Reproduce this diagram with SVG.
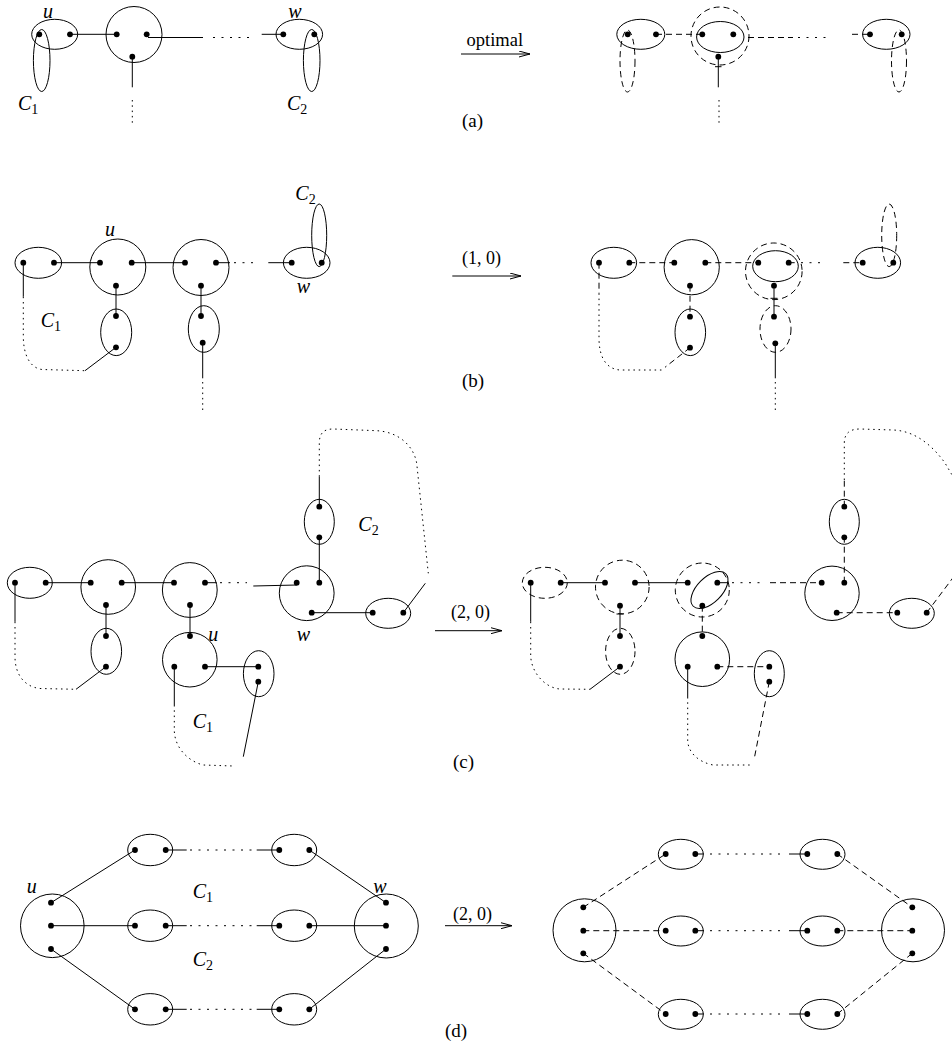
<svg xmlns="http://www.w3.org/2000/svg" width="952" height="1041" viewBox="0 0 952 1041">
<style>
.s{fill:none;stroke:#000;stroke-width:1}
.d{fill:none;stroke:#000;stroke-width:1;stroke-dasharray:6 4}
.o{fill:none;stroke:#000;stroke-width:1;stroke-dasharray:1.5 3.8}
.q{fill:none;stroke:#000;stroke-width:1;stroke-dasharray:2 6.5}
.p{fill:#000}
.m{font-family:"Liberation Serif",serif;font-style:italic;font-size:20px}
.sb{font-style:normal;font-size:14px}
.t{font-family:"Liberation Serif",serif;font-size:19px}
</style>
<defs>
<marker id="ah" viewBox="0 0 12 7" refX="11.5" refY="3.5" markerWidth="12" markerHeight="7" markerUnits="userSpaceOnUse" orient="auto">
<path d="M0,0.4 L11.5,3.5 L0,6.6" fill="none" stroke="#000" stroke-width="1"/>
</marker>
</defs>
<rect width="952" height="1041" fill="#fff"/>

<!-- ===== connectors ===== -->
<g id="connectors">
<!-- (a) left -->
<line class="s" x1="70" y1="34.3" x2="116.7" y2="34.3"/>
<line class="s" x1="148" y1="37.5" x2="203" y2="37.5"/>
<line class="q" x1="213" y1="37.5" x2="249" y2="37.5"/>
<line class="s" x1="261.7" y1="34.3" x2="283.3" y2="34.3"/>
<line class="s" x1="132.3" y1="56.7" x2="132.3" y2="87.3"/>
<line class="o" x1="132.3" y1="100" x2="132.3" y2="124"/>
<!-- (a) right -->
<line class="s" x1="461" y1="54" x2="530" y2="54" marker-end="url(#ah)"/>
<line class="d" x1="656" y1="34.3" x2="702.3" y2="34.3"/>
<line class="d" x1="748" y1="37.5" x2="793" y2="37.5"/>
<line class="q" x1="798" y1="37.5" x2="830" y2="37.5"/>
<line class="d" x1="852" y1="34.3" x2="870" y2="34.3"/>
<line class="s" x1="718.3" y1="56.7" x2="718.3" y2="87.3"/>
<line class="s" x1="715" y1="66.7" x2="721.5" y2="66.7"/>
<line class="o" x1="719" y1="100" x2="719" y2="124"/>

<!-- (b) left -->
<line class="s" x1="54" y1="262.7" x2="100" y2="262.7"/>
<line class="s" x1="131.7" y1="262.7" x2="185" y2="262.7"/>
<line class="s" x1="216" y1="262.7" x2="230" y2="262.7"/>
<line class="q" x1="234" y1="262.7" x2="256" y2="262.7"/>
<line class="s" x1="268.3" y1="262.7" x2="291.7" y2="262.7"/>
<line class="s" x1="116" y1="285.7" x2="116" y2="316"/>
<line class="s" x1="201" y1="285.7" x2="201" y2="316"/>
<line class="s" x1="116" y1="347.3" x2="85" y2="370.7"/>
<line class="s" x1="23.3" y1="262.7" x2="23.3" y2="296.7"/>
<path class="o" d="M23.3,296.7 V336 C23.3,355 30,368 42,369.5 L85,370.7"/>
<line class="s" x1="202.7" y1="342.7" x2="202.7" y2="378.3"/>
<line class="o" x1="202.7" y1="382" x2="202.7" y2="412"/>
<!-- (b) right -->
<line class="s" x1="452.3" y1="276" x2="521" y2="276" marker-end="url(#ah)"/>
<line class="d" x1="629.3" y1="262.7" x2="674.3" y2="262.7"/>
<line class="d" x1="705.3" y1="262.7" x2="758.3" y2="262.7"/>
<line class="d" x1="788.7" y1="262.7" x2="798" y2="262.7"/>
<line class="q" x1="801" y1="262.7" x2="826" y2="262.7"/>
<line class="d" x1="843.3" y1="262.7" x2="862.7" y2="262.7"/>
<line class="d" x1="690" y1="285.7" x2="690" y2="316.7"/>
<line class="d" x1="690" y1="347.7" x2="665" y2="367.3"/>
<line class="d" x1="599" y1="262.7" x2="599" y2="293.3"/>
<path class="o" d="M599,293.3 V338 C599,357 606,369 620,370 L665,370"/>
<line class="s" x1="774" y1="285.7" x2="774" y2="316.7"/>
<line class="s" x1="770.5" y1="298.3" x2="777.5" y2="298.3"/>
<line class="s" x1="775.3" y1="343.3" x2="775.3" y2="378.3"/>
<line class="o" x1="775.3" y1="382" x2="775.3" y2="412"/>

<!-- (c) left -->
<line class="s" x1="45.7" y1="582.7" x2="90.7" y2="582.7"/>
<line class="s" x1="121.7" y1="582.7" x2="174" y2="582.7"/>
<line class="s" x1="205" y1="582.7" x2="216.7" y2="582.7"/>
<line class="q" x1="220" y1="582.7" x2="247" y2="582.7"/>
<line class="s" x1="253.3" y1="586" x2="297" y2="585"/>
<line class="s" x1="319.3" y1="582.7" x2="319.3" y2="537.3"/>
<line class="s" x1="319.3" y1="506.7" x2="319.3" y2="476.7"/>
<path class="o" d="M319.3,476.7 V443.3 C319.3,432 325,429 333.3,429 L376.7,430.7 C400,432 414,447 416.7,463.3 L428.3,573.3"/>
<line class="s" x1="425.3" y1="583.3" x2="403.3" y2="612.7"/>
<line class="s" x1="311.7" y1="612.7" x2="372.7" y2="612.7"/>
<line class="s" x1="106" y1="605" x2="106" y2="636"/>
<line class="s" x1="106" y1="666.7" x2="76" y2="689.3"/>
<line class="s" x1="15" y1="582.7" x2="15" y2="621.7"/>
<path class="o" d="M15,621.7 V656.7 C15,675 25,687 40,688.5 L76,689.3"/>
<line class="s" x1="190" y1="605" x2="190" y2="636"/>
<line class="s" x1="205" y1="666.7" x2="258.3" y2="666.7"/>
<line class="s" x1="258.3" y1="681.7" x2="243.3" y2="756.7"/>
<line class="s" x1="174.3" y1="666.7" x2="174.3" y2="705"/>
<path class="o" d="M174.3,705 V730 C174.3,745 185,760 203,765 L233.3,766"/>
<!-- (c) right -->
<line class="s" x1="435" y1="630.7" x2="502" y2="630.7" marker-end="url(#ah)"/>
<line class="s" x1="560.7" y1="582.7" x2="605" y2="582.7"/>
<line class="s" x1="635" y1="582.7" x2="687.7" y2="582.7"/>
<line class="s" x1="717.3" y1="582.7" x2="728.3" y2="582.7"/>
<line class="q" x1="732" y1="582.7" x2="762" y2="582.7"/>
<line class="d" x1="770" y1="582.7" x2="821.7" y2="582.7"/>
<line class="d" x1="844.3" y1="582.7" x2="844.3" y2="537.3"/>
<line class="d" x1="844.3" y1="506.7" x2="844.3" y2="480"/>
<path class="o" d="M844.3,480 V443.3 C844.3,433 850,429 860,429 L893.3,430 C915,431 932,445 945,463 L955,480"/>
<line class="d" x1="926.7" y1="612.7" x2="955" y2="575"/>
<line class="d" x1="836.7" y1="612.7" x2="897.3" y2="612.7"/>
<line class="s" x1="620" y1="605.7" x2="620" y2="636"/>
<line class="s" x1="616.5" y1="614" x2="623.5" y2="614"/>
<line class="s" x1="620" y1="666.7" x2="590" y2="689.3"/>
<line class="s" x1="530.7" y1="582.7" x2="530.7" y2="621.7"/>
<path class="o" d="M530.7,621.7 V655 C530.7,672 545,688 560,689 L590,689.3"/>
<line class="d" x1="702.3" y1="605.7" x2="702.3" y2="636"/>
<line class="d" x1="717.3" y1="666.7" x2="769.3" y2="666.7"/>
<line class="d" x1="769.3" y1="681.7" x2="754.3" y2="758.3"/>
<line class="s" x1="687.7" y1="666.7" x2="687.7" y2="697"/>
<path class="o" d="M687.7,697 V740 C687.7,752 698,762 713,765 L753,765"/>

<!-- (d) left -->
<line class="s" x1="51" y1="902.7" x2="135" y2="850"/>
<line class="s" x1="51" y1="925.7" x2="135" y2="925.7"/>
<line class="s" x1="51" y1="949" x2="135" y2="1009.3"/>
<line class="s" x1="309.3" y1="850" x2="386" y2="902.7"/>
<line class="s" x1="309.3" y1="925.7" x2="386" y2="925.7"/>
<line class="s" x1="309.3" y1="1009.3" x2="386" y2="949"/>
<line class="s" x1="165.7" y1="850" x2="186.7" y2="850"/>
<line class="q" x1="190" y1="850" x2="255" y2="850"/>
<line class="s" x1="256.7" y1="850" x2="279.3" y2="850"/>
<line class="s" x1="165.7" y1="925.7" x2="186.7" y2="925.7"/>
<line class="q" x1="190" y1="925.7" x2="255" y2="925.7"/>
<line class="s" x1="256.7" y1="925.7" x2="279.3" y2="925.7"/>
<line class="s" x1="165.7" y1="1009.3" x2="186.7" y2="1009.3"/>
<line class="q" x1="190" y1="1009.3" x2="255" y2="1009.3"/>
<line class="s" x1="256.7" y1="1009.3" x2="279.3" y2="1009.3"/>
<!-- (d) right -->
<line class="s" x1="445" y1="925.7" x2="512" y2="925.7" marker-end="url(#ah)"/>
<line class="d" x1="583.3" y1="907.3" x2="665.7" y2="854"/>
<line class="d" x1="583.3" y1="930.7" x2="665.7" y2="930.7"/>
<line class="d" x1="583.3" y1="953.3" x2="665.7" y2="1014"/>
<line class="d" x1="837.3" y1="854" x2="912.3" y2="907.3"/>
<line class="d" x1="837.3" y1="930.7" x2="912.3" y2="930.7"/>
<line class="d" x1="837.3" y1="1014" x2="912.3" y2="953.3"/>
<line class="s" x1="695.3" y1="854" x2="704" y2="854"/>
<line class="q" x1="710" y1="854" x2="780" y2="854"/>
<line class="s" x1="789" y1="854" x2="807.3" y2="854"/>
<line class="s" x1="695.3" y1="930.7" x2="704" y2="930.7"/>
<line class="q" x1="710" y1="930.7" x2="780" y2="930.7"/>
<line class="s" x1="789" y1="930.7" x2="807.3" y2="930.7"/>
<line class="s" x1="695.3" y1="1014" x2="704" y2="1014"/>
<line class="q" x1="710" y1="1014" x2="780" y2="1014"/>
<line class="s" x1="789" y1="1014" x2="807.3" y2="1014"/>
</g>

<!-- ===== nodes ===== -->
<!-- (a) left -->
<g id="a-u"><ellipse class="s" cx="54.7" cy="34.3" rx="23" ry="15"/><circle class="p" cx="39.3" cy="34.3" r="2.9"/><circle class="p" cx="70" cy="34.3" r="2.9"/></g>
<g id="a-C1"><ellipse class="s" cx="41.7" cy="60.5" rx="8.3" ry="31"/></g>
<g id="a-mid"><circle class="s" cx="134" cy="34.5" r="28"/><circle class="p" cx="116.7" cy="34.3" r="2.9"/><circle class="p" cx="146.7" cy="34.3" r="2.9"/><circle class="p" cx="132.3" cy="56.7" r="2.9"/></g>
<g id="a-w"><ellipse class="s" cx="299.3" cy="34.3" rx="23.3" ry="15"/><circle class="p" cx="283.3" cy="34.3" r="2.9"/><circle class="p" cx="314.3" cy="34.3" r="2.9"/></g>
<g id="a-C2"><ellipse class="s" cx="311.7" cy="60.5" rx="8.3" ry="31"/></g>
<!-- (a) right -->
<g id="a2-u"><ellipse class="s" cx="640.8" cy="34.3" rx="24" ry="15"/><circle class="p" cx="627.7" cy="34.3" r="2.9"/><circle class="p" cx="656" cy="34.3" r="2.9"/></g>
<g id="a2-C1"><ellipse class="d" cx="627.5" cy="61" rx="7.5" ry="31"/></g>
<g id="a2-mid"><circle class="d" cx="720" cy="36" r="29"/><ellipse class="s" cx="720.3" cy="37" rx="23.7" ry="15.5"/><circle class="p" cx="702.3" cy="34.3" r="2.9"/><circle class="p" cx="733.3" cy="34.3" r="2.9"/><circle class="p" cx="718.3" cy="56.7" r="2.9"/></g>
<g id="a2-w"><ellipse class="s" cx="886.3" cy="34.3" rx="23.7" ry="15"/><circle class="p" cx="870" cy="34.3" r="2.9"/><circle class="p" cx="901.7" cy="34.3" r="2.9"/></g>
<g id="a2-C2"><ellipse class="d" cx="899" cy="61" rx="7.5" ry="31"/></g>

<!-- (b) left -->
<g id="b-e1"><ellipse class="s" cx="38.3" cy="262.8" rx="23.3" ry="15.5"/><circle class="p" cx="23.3" cy="262.7" r="2.9"/><circle class="p" cx="54" cy="262.7" r="2.9"/></g>
<g id="b-u"><circle class="s" cx="117.8" cy="267" r="28"/><circle class="p" cx="100" cy="262.7" r="2.9"/><circle class="p" cx="131.7" cy="262.7" r="2.9"/><circle class="p" cx="116" cy="285.7" r="2.9"/></g>
<g id="b-c2"><circle class="s" cx="201" cy="267.5" r="28"/><circle class="p" cx="185" cy="262.7" r="2.9"/><circle class="p" cx="216" cy="262.7" r="2.9"/><circle class="p" cx="201" cy="285.7" r="2.9"/></g>
<g id="b-w"><ellipse class="s" cx="306.7" cy="262.8" rx="23.3" ry="15.5"/><circle class="p" cx="291.7" cy="262.7" r="2.9"/><circle class="p" cx="321.7" cy="262.7" r="2.9"/></g>
<g id="b-C2"><ellipse class="s" cx="319.2" cy="235.3" rx="7.5" ry="31.3"/></g>
<g id="b-v1"><ellipse class="s" cx="116.2" cy="332.3" rx="15.5" ry="23.3"/><circle class="p" cx="116" cy="316" r="2.9"/><circle class="p" cx="116" cy="347.3" r="2.9"/></g>
<g id="b-v2"><ellipse class="s" cx="203.8" cy="329" rx="15.5" ry="23.3"/><circle class="p" cx="201" cy="316" r="2.9"/><circle class="p" cx="202.7" cy="342.7" r="2.9"/></g>
<!-- (b) right -->
<g id="b2-e1"><ellipse class="s" cx="613.8" cy="262.8" rx="22.8" ry="15.5"/><circle class="p" cx="599" cy="262.7" r="2.9"/><circle class="p" cx="629.3" cy="262.7" r="2.9"/></g>
<g id="b2-u"><circle class="s" cx="691.7" cy="267.2" r="27.6"/><circle class="p" cx="674.3" cy="262.7" r="2.9"/><circle class="p" cx="705.3" cy="262.7" r="2.9"/><circle class="p" cx="690" cy="285.7" r="2.9"/></g>
<g id="b2-c2"><circle class="d" cx="773.8" cy="271.3" r="28.3"/><ellipse class="s" cx="775.5" cy="266.2" rx="22.8" ry="15.5"/><circle class="p" cx="758.3" cy="262.7" r="2.9"/><circle class="p" cx="788.7" cy="262.7" r="2.9"/><circle class="p" cx="774" cy="285.7" r="2.9"/></g>
<g id="b2-w"><ellipse class="s" cx="877.8" cy="262.8" rx="22.8" ry="15.5"/><circle class="p" cx="862.7" cy="262.7" r="2.9"/><circle class="p" cx="893.3" cy="262.7" r="2.9"/></g>
<g id="b2-C2"><ellipse class="d" cx="889.2" cy="235.3" rx="7.5" ry="31.3"/></g>
<g id="b2-v1"><ellipse class="s" cx="690.3" cy="332.3" rx="15.3" ry="23.3"/><circle class="p" cx="690" cy="316.7" r="2.9"/><circle class="p" cx="690" cy="347.7" r="2.9"/></g>
<g id="b2-v2"><ellipse class="d" cx="775.5" cy="329" rx="15.5" ry="23.3"/><circle class="p" cx="774" cy="316.7" r="2.9"/><circle class="p" cx="775.3" cy="343.3" r="2.9"/></g>

<!-- (c) left -->
<g id="c-e1"><ellipse class="s" cx="29.8" cy="582.8" rx="22.5" ry="15.5"/><circle class="p" cx="15" cy="582.7" r="2.9"/><circle class="p" cx="45.7" cy="582.7" r="2.9"/></g>
<g id="c-c1"><circle class="s" cx="108.2" cy="587" r="27.3"/><circle class="p" cx="90.7" cy="582.7" r="2.9"/><circle class="p" cx="121.7" cy="582.7" r="2.9"/><circle class="p" cx="106" cy="605" r="2.9"/></g>
<g id="c-c2"><circle class="s" cx="189.8" cy="590" r="27.4"/><circle class="p" cx="174" cy="582.7" r="2.9"/><circle class="p" cx="205" cy="582.7" r="2.9"/><circle class="p" cx="190" cy="605" r="2.9"/></g>
<g id="c-w"><circle class="s" cx="306.7" cy="593.2" r="27.4"/><circle class="p" cx="296.7" cy="582.7" r="2.9"/><circle class="p" cx="319.3" cy="582.7" r="2.9"/><circle class="p" cx="311.7" cy="612.7" r="2.9"/></g>
<g id="c-top"><ellipse class="s" cx="319.3" cy="521.8" rx="15" ry="22.5"/><circle class="p" cx="319.3" cy="506.7" r="2.9"/><circle class="p" cx="319.3" cy="537.3" r="2.9"/></g>
<g id="c-right"><ellipse class="s" cx="388.2" cy="613.3" rx="22.5" ry="15"/><circle class="p" cx="372.7" cy="612.7" r="2.9"/><circle class="p" cx="403.3" cy="612.7" r="2.9"/></g>
<g id="c-v1"><ellipse class="s" cx="106.3" cy="651.3" rx="15.3" ry="23"/><circle class="p" cx="106" cy="636" r="2.9"/><circle class="p" cx="106" cy="666.7" r="2.9"/></g>
<g id="c-u"><circle class="s" cx="189.8" cy="659.7" r="27.3"/><circle class="p" cx="190" cy="636" r="2.9"/><circle class="p" cx="174.3" cy="666.7" r="2.9"/><circle class="p" cx="205" cy="666.7" r="2.9"/></g>
<g id="c-v2"><ellipse class="s" cx="258.7" cy="673.7" rx="15.3" ry="23"/><circle class="p" cx="258.3" cy="666.7" r="2.9"/><circle class="p" cx="258.3" cy="681.7" r="2.9"/></g>
<!-- (c) right -->
<g id="c2-e1"><ellipse class="d" cx="544.8" cy="582.8" rx="22.5" ry="15.5"/><circle class="p" cx="530.7" cy="582.7" r="2.9"/><circle class="p" cx="560.7" cy="582.7" r="2.9"/></g>
<g id="c2-c1"><circle class="d" cx="622.3" cy="587" r="26.8"/><circle class="p" cx="605" cy="582.7" r="2.9"/><circle class="p" cx="635" cy="582.7" r="2.9"/><circle class="p" cx="620" cy="605.7" r="2.9"/></g>
<g id="c2-c2"><circle class="d" cx="702.3" cy="590" r="27"/><ellipse class="s" cx="709.5" cy="590" rx="23" ry="12.5" transform="rotate(-45 709.5 590)"/><circle class="p" cx="687.7" cy="582.7" r="2.9"/><circle class="p" cx="717.3" cy="582.7" r="2.9"/><circle class="p" cx="702.3" cy="605.7" r="2.9"/></g>
<g id="c2-w"><circle class="s" cx="832" cy="593.3" r="27.2"/><circle class="p" cx="821.7" cy="582.7" r="2.9"/><circle class="p" cx="844.3" cy="582.7" r="2.9"/><circle class="p" cx="836.7" cy="612.7" r="2.9"/></g>
<g id="c2-top"><ellipse class="s" cx="844.3" cy="521.8" rx="15" ry="22.5"/><circle class="p" cx="844.3" cy="506.7" r="2.9"/><circle class="p" cx="844.3" cy="537.3" r="2.9"/></g>
<g id="c2-right"><ellipse class="s" cx="911.8" cy="613.3" rx="22.5" ry="15"/><circle class="p" cx="897.3" cy="612.7" r="2.9"/><circle class="p" cx="926.7" cy="612.7" r="2.9"/></g>
<g id="c2-v1"><ellipse class="d" cx="620.3" cy="651.3" rx="14.7" ry="23"/><circle class="p" cx="620" cy="636" r="2.9"/><circle class="p" cx="620" cy="666.7" r="2.9"/></g>
<g id="c2-u"><circle class="s" cx="702.3" cy="659.2" r="27.3"/><circle class="p" cx="702.3" cy="636" r="2.9"/><circle class="p" cx="687.7" cy="666.7" r="2.9"/><circle class="p" cx="717.3" cy="666.7" r="2.9"/></g>
<g id="c2-v2"><ellipse class="s" cx="769.3" cy="673.7" rx="15" ry="23"/><circle class="p" cx="769.3" cy="666.7" r="2.9"/><circle class="p" cx="769.3" cy="681.7" r="2.9"/></g>

<!-- (d) left -->
<g id="d-u"><circle class="s" cx="52.3" cy="925.8" r="31.8"/><circle class="p" cx="51" cy="902.7" r="2.9"/><circle class="p" cx="51" cy="925.7" r="2.9"/><circle class="p" cx="51" cy="949" r="2.9"/></g>
<g id="d-w"><circle class="s" cx="386.3" cy="926" r="32"/><circle class="p" cx="386" cy="902.7" r="2.9"/><circle class="p" cx="386" cy="925.7" r="2.9"/><circle class="p" cx="386" cy="949" r="2.9"/></g>
<g id="d-e11"><ellipse class="s" cx="150.2" cy="850" rx="22.5" ry="15.7"/><circle class="p" cx="135" cy="850" r="2.9"/><circle class="p" cx="165.7" cy="850" r="2.9"/></g>
<g id="d-e12"><ellipse class="s" cx="294.2" cy="850" rx="22.5" ry="15.7"/><circle class="p" cx="279.3" cy="850" r="2.9"/><circle class="p" cx="309.3" cy="850" r="2.9"/></g>
<g id="d-e21"><ellipse class="s" cx="150.2" cy="925.7" rx="22.5" ry="15.7"/><circle class="p" cx="135" cy="925.7" r="2.9"/><circle class="p" cx="165.7" cy="925.7" r="2.9"/></g>
<g id="d-e22"><ellipse class="s" cx="294.2" cy="925.7" rx="22.5" ry="15.7"/><circle class="p" cx="279.3" cy="925.7" r="2.9"/><circle class="p" cx="309.3" cy="925.7" r="2.9"/></g>
<g id="d-e31"><ellipse class="s" cx="150.2" cy="1009.3" rx="22.5" ry="15.7"/><circle class="p" cx="135" cy="1009.3" r="2.9"/><circle class="p" cx="165.7" cy="1009.3" r="2.9"/></g>
<g id="d-e32"><ellipse class="s" cx="294.2" cy="1009.3" rx="22.5" ry="15.7"/><circle class="p" cx="279.3" cy="1009.3" r="2.9"/><circle class="p" cx="309.3" cy="1009.3" r="2.9"/></g>
<!-- (d) right -->
<g id="d2-u"><circle class="s" cx="584.5" cy="930.3" r="31.5"/><circle class="p" cx="583.3" cy="907.3" r="2.9"/><circle class="p" cx="583.3" cy="930.7" r="2.9"/><circle class="p" cx="583.3" cy="953.3" r="2.9"/></g>
<g id="d2-w"><circle class="s" cx="913" cy="930.3" r="31.5"/><circle class="p" cx="912.3" cy="907.3" r="2.9"/><circle class="p" cx="912.3" cy="930.7" r="2.9"/><circle class="p" cx="912.3" cy="953.3" r="2.9"/></g>
<g id="d2-e11"><ellipse class="s" cx="680.8" cy="854.3" rx="22.5" ry="15"/><circle class="p" cx="665.7" cy="854" r="2.9"/><circle class="p" cx="695.3" cy="854" r="2.9"/></g>
<g id="d2-e12"><ellipse class="s" cx="822.5" cy="854.3" rx="22.5" ry="15"/><circle class="p" cx="807.3" cy="854" r="2.9"/><circle class="p" cx="837.3" cy="854" r="2.9"/></g>
<g id="d2-e21"><ellipse class="s" cx="680.8" cy="931" rx="22.5" ry="15"/><circle class="p" cx="665.7" cy="930.7" r="2.9"/><circle class="p" cx="695.3" cy="930.7" r="2.9"/></g>
<g id="d2-e22"><ellipse class="s" cx="822.5" cy="931" rx="22.5" ry="15"/><circle class="p" cx="807.3" cy="930.7" r="2.9"/><circle class="p" cx="837.3" cy="930.7" r="2.9"/></g>
<g id="d2-e31"><ellipse class="s" cx="680.8" cy="1014.3" rx="22.5" ry="15"/><circle class="p" cx="665.7" cy="1014" r="2.9"/><circle class="p" cx="695.3" cy="1014" r="2.9"/></g>
<g id="d2-e32"><ellipse class="s" cx="822.5" cy="1014.3" rx="22.5" ry="15"/><circle class="p" cx="807.3" cy="1014" r="2.9"/><circle class="p" cx="837.3" cy="1014" r="2.9"/></g>

<!-- ===== labels ===== -->
<g id="labels">
<text class="m" x="48" y="18" text-anchor="middle">u</text>
<text class="m" x="295" y="18" text-anchor="middle">w</text>
<text class="m" x="18" y="110">C<tspan class="sb" dy="4">1</tspan></text>
<text class="m" x="287" y="110">C<tspan class="sb" dy="4">2</tspan></text>
<text class="t" x="466.5" y="46" style="font-size:18.5px">optimal</text>
<text class="t" x="462" y="127">(a)</text>

<text class="m" x="110" y="236" text-anchor="middle">u</text>
<text class="m" x="303.3" y="293" text-anchor="middle">w</text>
<text class="m" x="295.3" y="200">C<tspan class="sb" dy="4">2</tspan></text>
<text class="m" x="40.7" y="327">C<tspan class="sb" dy="4">1</tspan></text>
<text class="t" x="462" y="264" style="font-size:18px">(1, 0)</text>
<text class="t" x="462" y="387">(b)</text>

<text class="m" x="303.3" y="641" text-anchor="middle">w</text>
<text class="m" x="213.3" y="641" text-anchor="middle">u</text>
<text class="m" x="358.3" y="531">C<tspan class="sb" dy="4">2</tspan></text>
<text class="m" x="192.7" y="728">C<tspan class="sb" dy="4">1</tspan></text>
<text class="t" x="451" y="618" style="font-size:18px">(2, 0)</text>
<text class="t" x="453" y="768">(c)</text>

<text class="m" x="31.7" y="893" text-anchor="middle">u</text>
<text class="m" x="380" y="893" text-anchor="middle">w</text>
<text class="m" x="192.7" y="898">C<tspan class="sb" dy="4">1</tspan></text>
<text class="m" x="192.7" y="966">C<tspan class="sb" dy="4">2</tspan></text>
<text class="t" x="453" y="920" style="font-size:18px">(2, 0)</text>
<text class="t" x="445" y="1037">(d)</text>
</g>
</svg>
